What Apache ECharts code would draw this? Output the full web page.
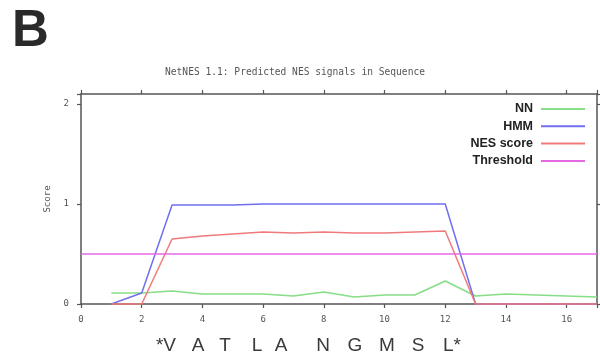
<!DOCTYPE html>
<html>
<head>
<meta charset="utf-8">
<script src="https://cdn.jsdelivr.net/npm/echarts@6/dist/echarts.min.js"></script>
<style>html,body{margin:0;padding:0;background:#fff}#c{width:600px;height:357px}</style>
</head>
<body>
<div id="c"></div>
<script>
// ---- data ----
const positions = [1,2,3,4,5,6,7,8,9,10,11,12,13,14,15,16,17];
const nnValues  = [0.11,0.11,0.13,0.10,0.10,0.10,0.08,0.12,0.07,0.09,0.09,0.23,0.08,0.10,0.09,0.08,0.07];
const hmmValues = [0,0.11,0.99,0.99,0.99,1.0,1.0,1.0,1.0,1.0,1.0,1.0,0,0,0,0,0];
const nesValues = [0,0,0.65,0.68,0.70,0.72,0.71,0.72,0.71,0.71,0.72,0.73,0,0,0,0,0];
const thresholdX = [0,17];
const thresholdY = [0.5,0.5];
const xTicks = [0,2,4,6,8,10,12,14,16];
const yTicks = [0,1,2];
const seqLetters = ['*V','A','T','L','A','N','G','M','S','L*'];
const seriesNames = ['NN','HMM','NES score','Threshold'];
const titleText = 'NetNES 1.1: Predicted NES signals in Sequence';
const panelLabel = 'B';

// ---- layout ----
const seqX = [166,198,225,257,281,323,355,387,418,452];
const colors = ['#86de86','#6f6ff0','#f07a7a','#e46ae4'];
const mono = 'DejaVu Sans Mono';

function pairs(xs, ys){ return xs.map((x,i)=>[x, ys[i]]); }

const chart = echarts.init(document.getElementById('c'), null, {renderer:'canvas'});
const axisLine = {show:true, onZero:false, lineStyle:{color:'#555', width:1.5}};
const tick = {show:true, inside:false, length:4, lineStyle:{color:'#555', width:1.2}};

const graphics = [
  {type:'text', left:12, top:6, style:{text:panelLabel, font:'bold 51px "Liberation Sans", Arial', fill:'#2a2a2a'}},
  {type:'text', x:295, y:72, style:{text:titleText, font:'9.6px "'+mono+'"', fill:'#555', textAlign:'center', textVerticalAlign:'middle'}}
];
seqLetters.forEach((s,i)=>{
  graphics.push({type:'text', x:seqX[i], y:346, style:{text:s, font:'19px "Liberation Sans", Arial', fill:'#3a3a3a', textAlign:'center', textVerticalAlign:'middle'}});
});

chart.setOption({
  animation:false,
  backgroundColor:'#fff',
  grid:{left:81, right:2, top:94, bottom:53, containLabel:false},
  legend:{
    orient:'vertical', align:'right', right:10, top:97,
    itemWidth:44, itemHeight:2, itemGap:3.3, icon:'rect',
    textStyle:{fontFamily:'"Liberation Sans", Arial', fontWeight:'bold', fontSize:12.5, color:'#222', lineHeight:14, padding:[0,3,0,0]},
    data:seriesNames
  },
  xAxis:[
    {type:'value', min:0, max:17, interval:2, position:'bottom',
     axisLine:axisLine, axisTick:tick, splitLine:{show:false},
     axisLabel:{margin:11, fontFamily:mono, fontSize:9, color:'#555',
       formatter:v=> xTicks.indexOf(v)>=0 ? String(v) : ''}},
    {type:'value', min:0, max:17, interval:2, position:'top',
     axisLine:axisLine, axisTick:tick, splitLine:{show:false}, axisLabel:{show:false}}
  ],
  yAxis:[
    {type:'value', min:0, max:2.1, interval:1, position:'left',
     name:'Score', nameLocation:'middle', nameGap:29, nameRotate:90,
     nameTextStyle:{fontFamily:mono, fontSize:9, color:'#555'},
     axisLine:axisLine, axisTick:tick, splitLine:{show:false},
     axisLabel:{margin:12, fontFamily:mono, fontSize:9, color:'#555',
       formatter:v=> yTicks.indexOf(v)>=0 ? String(v) : ''}},
    {type:'value', min:0, max:2.1, interval:1, position:'right',
     axisLine:axisLine, axisTick:tick, splitLine:{show:false}, axisLabel:{show:false}}
  ],
  series:[
    {name:seriesNames[0], type:'line', clip:false, data:pairs(positions,nnValues), showSymbol:false, symbol:'none', lineStyle:{color:colors[0], width:1.5}, itemStyle:{color:colors[0]}},
    {name:seriesNames[1], type:'line', clip:false, data:pairs(positions,hmmValues), showSymbol:false, symbol:'none', lineStyle:{color:colors[1], width:1.5}, itemStyle:{color:colors[1]}},
    {name:seriesNames[2], type:'line', clip:false, data:pairs(positions,nesValues), showSymbol:false, symbol:'none', lineStyle:{color:colors[2], width:1.5}, itemStyle:{color:colors[2]}},
    {name:seriesNames[3], type:'line', clip:false, data:pairs(thresholdX,thresholdY), showSymbol:false, symbol:'none', lineStyle:{color:colors[3], width:1.5}, itemStyle:{color:colors[3]}}
  ],
  graphic:graphics
});
</script>
</body>
</html>
